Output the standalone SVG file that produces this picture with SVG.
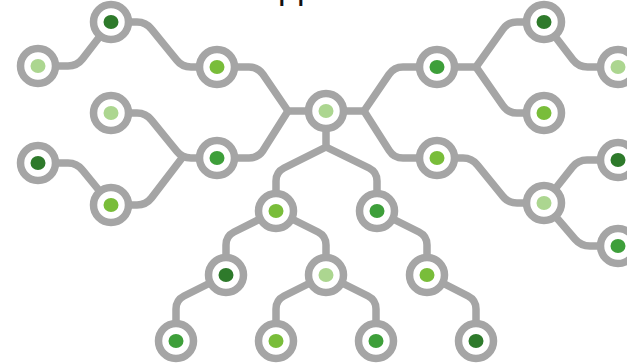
<svg xmlns="http://www.w3.org/2000/svg" width="627" height="363" viewBox="0 0 627 363">
<style>
.bg{fill:#ffffff}
.c{fill:none;stroke:#a5a5a5;stroke-width:7.5;stroke-linejoin:round;stroke-linecap:round}
.ring{fill:#ffffff;stroke:#a5a5a5;stroke-width:7.5}
.dk{fill:#2e7a2b}
.gr{fill:#3e9f3a}
.yg{fill:#79bd3a}
.lt{fill:#acd690}
.t{font-family:"Liberation Sans",Arial,sans-serif;font-size:34px;fill:#111111}
</style>
<defs>
<circle id="r" r="17.5" class="ring"/>
</defs>
<rect class="bg" x="0" y="0" width="627" height="363"/>
<text class="t" x="278" y="-1.5">pp</text>
<g id="connectors">
<path class="c" d="M38,66 L68,66 Q77,66 82.5,58.9 L111,22"/>
<path class="c" d="M111,22 L137,22 Q146,22 151.5,29.1 L176.5,59.9 Q182,67 191,67 L217,67"/>
<path class="c" d="M217,67 L249,67 Q258,67 263,74.4 L288,111 L326,111"/>
<path class="c" d="M217,158 L249,158 Q258,158 263,150.6 L288,111"/>
<path class="c" d="M111,113 L137,113 Q146,113 151.5,120.1 L176.5,150.9 Q182,158 191,158 L217,158"/>
<path class="c" d="M38,163 L68,163 Q77,163 82.5,170.1 L111,205"/>
<path class="c" d="M111,205 L137,205 Q146,205 151.5,197.9 L182,158"/>
<path class="c" d="M326,111 L364,111 L389,74.4 Q394,67 403,67 L437,67"/>
<path class="c" d="M364,111 L389.2,150.4 Q394,158 403,158 L437,158"/>
<path class="c" d="M437,67 L476,67 L502.8,29.3 Q508,22 517,22 L544,22"/>
<path class="c" d="M476,67 L502.9,105.6 Q508,113 517,113 L544,113"/>
<path class="c" d="M544,22 L573,59.9 Q578.6,67 587.6,67 L618,67"/>
<path class="c" d="M437,158 L463,158 Q472,158 477.5,165.1 L502.5,195.9 Q508,203 517,203 L544,203"/>
<path class="c" d="M544,203 L572.4,167.1 Q578,160 587,160 L618,160"/>
<path class="c" d="M544,203 L575.1,239.2 Q581,246 590,246 L618,246"/>
<path class="c" d="M326,111 L326,147 L284,168 Q276,172 276,181 L276,211"/>
<path class="c" d="M326,147 L369,168 Q377,172 377,181 L377,211"/>
<path class="c" d="M276,211 L234,232 Q226,236 226,245 L226,275"/>
<path class="c" d="M276,211 L318,232 Q326,236 326,245 L326,275"/>
<path class="c" d="M377,211 L419,232 Q427,236 427,245 L427,275"/>
<path class="c" d="M226,275 L184,296 Q176,300 176,309 L176,341"/>
<path class="c" d="M326,275 L284,296 Q276,300 276,309 L276,341"/>
<path class="c" d="M326,275 L368,296 Q376,300 376,309 L376,341"/>
<path class="c" d="M427,275 L468,296 Q476,300 476,309 L476,341"/>
</g>
<g id="A" transform="translate(38,66)"><use href="#r"/><ellipse class="lt" rx="7.5" ry="7"/></g>
<g id="B" transform="translate(111,22)"><use href="#r"/><ellipse class="dk" rx="7.5" ry="7"/></g>
<g id="C" transform="translate(217,67)"><use href="#r"/><ellipse class="yg" rx="7.5" ry="7"/></g>
<g id="D" transform="translate(111,113)"><use href="#r"/><ellipse class="lt" rx="7.5" ry="7"/></g>
<g id="E" transform="translate(217,158)"><use href="#r"/><ellipse class="gr" rx="7.5" ry="7"/></g>
<g id="F" transform="translate(38,163)"><use href="#r"/><ellipse class="dk" rx="7.5" ry="7"/></g>
<g id="G" transform="translate(111,205)"><use href="#r"/><ellipse class="yg" rx="7.5" ry="7"/></g>
<g id="H" transform="translate(326,111)"><use href="#r"/><ellipse class="lt" rx="7.5" ry="7"/></g>
<g id="I" transform="translate(437,67)"><use href="#r"/><ellipse class="gr" rx="7.5" ry="7"/></g>
<g id="J" transform="translate(544,22)"><use href="#r"/><ellipse class="dk" rx="7.5" ry="7"/></g>
<g id="K" transform="translate(618,67)"><use href="#r"/><ellipse class="lt" rx="7.5" ry="7"/></g>
<g id="L" transform="translate(544,113)"><use href="#r"/><ellipse class="yg" rx="7.5" ry="7"/></g>
<g id="M" transform="translate(437,158)"><use href="#r"/><ellipse class="yg" rx="7.5" ry="7"/></g>
<g id="N" transform="translate(544,203)"><use href="#r"/><ellipse class="lt" rx="7.5" ry="7"/></g>
<g id="O" transform="translate(618,160)"><use href="#r"/><ellipse class="dk" rx="7.5" ry="7"/></g>
<g id="P" transform="translate(618,246)"><use href="#r"/><ellipse class="gr" rx="7.5" ry="7"/></g>
<g id="Q" transform="translate(276,211)"><use href="#r"/><ellipse class="yg" rx="7.5" ry="7"/></g>
<g id="R" transform="translate(377,211)"><use href="#r"/><ellipse class="gr" rx="7.5" ry="7"/></g>
<g id="S" transform="translate(226,275)"><use href="#r"/><ellipse class="dk" rx="7.5" ry="7"/></g>
<g id="T" transform="translate(326,275)"><use href="#r"/><ellipse class="lt" rx="7.5" ry="7"/></g>
<g id="U" transform="translate(427,275)"><use href="#r"/><ellipse class="yg" rx="7.5" ry="7"/></g>
<g id="V" transform="translate(176,341)"><use href="#r"/><ellipse class="gr" rx="7.5" ry="7"/></g>
<g id="W" transform="translate(276,341)"><use href="#r"/><ellipse class="yg" rx="7.5" ry="7"/></g>
<g id="X" transform="translate(376,341)"><use href="#r"/><ellipse class="gr" rx="7.5" ry="7"/></g>
<g id="Y" transform="translate(476,341)"><use href="#r"/><ellipse class="dk" rx="7.5" ry="7"/></g>
</svg>
